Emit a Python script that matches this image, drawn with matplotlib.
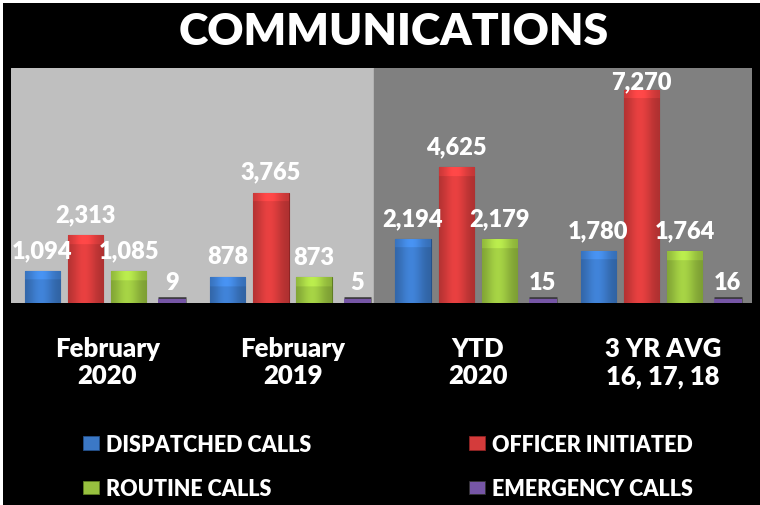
import numpy as np
import matplotlib
matplotlib.use("Agg")
import matplotlib.pyplot as plt
import matplotlib.colors as mcolors
import matplotlib.patheffects as pe
from matplotlib.patches import Patch, Rectangle

# --- data ---
categories = ["February\n2020", "February\n2019", "YTD\n2020", "3 YR AVG\n16, 17, 18"]
series_names = ["DISPATCHED CALLS", "OFFICER INITIATED", "ROUTINE CALLS", "EMERGENCY CALLS"]
dispatched = [1094, 878, 2194, 1780]
officer = [2313, 3765, 4625, 7270]
routine = [1085, 873, 2179, 1764]
emergency = [9, 5, 15, 16]

colors = ["#3b78c6", "#d43b3b", "#98c13f", "#7656a6"]
edges = ["#24508a", "#8e2424", "#5f7d22", "#333333"]

plt.rcParams["font.family"] = ["Lato", "DejaVu Sans"]
plt.rcParams["font.weight"] = "heavy"

fig = plt.figure(figsize=(7.6, 5.06), dpi=100)
fig.patch.set_facecolor("black")
fig.add_artist(Rectangle((0, 1 - 4 / 506), 1, 4 / 506, transform=fig.transFigure,
                         facecolor="white", edgecolor="none"))
fig.add_artist(Rectangle((0, 0), 3 / 760, 1, transform=fig.transFigure,
                         facecolor="white", edgecolor="none"))

ax = fig.add_axes([11 / 760, 202 / 506, 741 / 760, 234.7 / 506])
ax.set_facecolor("black")
ax.set_xlim(-0.5, 3.5)
ax.set_ylim(0, 8000)

ax.axvspan(-0.5, 1.46, color="#bfbfbf", zorder=0)
ax.axvspan(1.46, 3.5, color="#808080", zorder=0)

x = np.arange(len(categories))
offsets = [-0.33, -0.097, 0.136, 0.37]
width = 0.19
all_series = [dispatched, officer, routine, emergency]
px_per_unit = 234.7 / 8000


def shade_bar(patch, color):
    # bevelled look: darker sides, lighter top strip
    x0, w, h = patch.get_x(), patch.get_width(), patch.get_height()
    if h <= 0:
        return
    hpx = h * px_per_unit
    ny = max(int(hpx), 2)
    u = np.linspace(0, 1, 40)
    side = 0.8 + 0.3 * np.exp(-((u - 0.45) / 0.35) ** 2)
    v = np.linspace(0, 1, ny)[:, None]
    top = np.where(v > 1 - min(1, 9 / hpx), 1.12, 1.0)
    fac = side[None, :] * top
    rgb = np.array(mcolors.to_rgb(color))
    img = np.clip(rgb[None, None, :] * fac[:, :, None], 0, 1)
    im = ax.imshow(img, extent=(x0, x0 + w, 0, h), origin="lower", aspect="auto",
                   interpolation="bilinear", zorder=2.1)
    im.set_clip_path(patch)


for vals, off, c, ec, name in zip(all_series, offsets, colors, edges, series_names):
    if name == "EMERGENCY CALLS":
        # tiny values: thick rim keeps them visible like the bevelled original
        bars = ax.bar(x + off, vals, width=0.15, color=c, edgecolor=c,
                      linewidth=6, zorder=2)
        for b in bars:
            b.set_path_effects([pe.Stroke(linewidth=9, foreground=ec), pe.Normal()])
    else:
        bars = ax.bar(x + off, vals, width=width, color=c, edgecolor=ec,
                      linewidth=0.8, zorder=2)
        for b in bars:
            shade_bar(b, c)
    for xi, v in zip(x + off, vals):
        ax.text(xi, min(v + 470, 7330), f"{v:,}", ha="center", va="baseline",
                color="white", fontsize=17, fontweight="heavy", zorder=3)

for s in ax.spines.values():
    s.set_visible(False)
ax.set_yticks([])
ax.set_xticks(x + 0.02)
ax.set_xticklabels(categories, color="white", fontsize=18.5, fontweight="heavy",
                   linespacing=1.15)
ax.tick_params(axis="x", length=0, pad=24)

fig.text(0.518, 1 - 45 / 506, "COMMUNICATIONS", ha="center", va="baseline",
         color="white", fontsize=32, fontweight="heavy")

handles = [Patch(facecolor=c, edgecolor=ec, linewidth=0.6) for c, ec in zip(colors, edges)]
for idx, xpos in [((0, 2), 83 / 760), ((1, 3), 469 / 760)]:
    leg = fig.legend([handles[i] for i in idx], [series_names[i] for i in idx],
                     loc="center left", bbox_to_anchor=(xpos, 1 - 467.5 / 506),
                     frameon=False, fontsize=15.5, handlelength=0.75, handleheight=0.6,
                     handletextpad=0.3, labelspacing=1.08, borderpad=0, borderaxespad=0)
    for t in leg.get_texts():
        t.set_color("white")
        t.set_fontweight("heavy")

fig.savefig("out.png", dpi=100, facecolor=fig.get_facecolor())
